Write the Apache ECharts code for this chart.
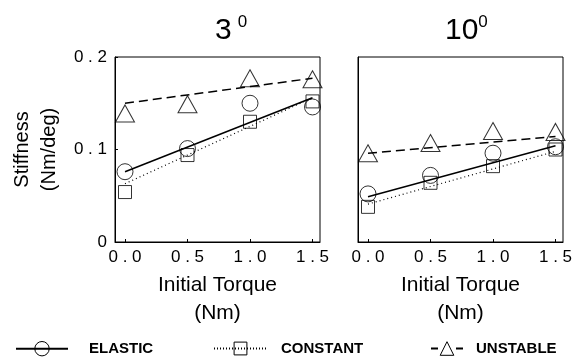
<!DOCTYPE html>
<html>
<head>
<meta charset="utf-8">
<script src="https://cdn.jsdelivr.net/npm/echarts@6/dist/echarts.min.js"></script>
<style>html,body{margin:0;padding:0;background:#fff}#c{width:578px;height:364px}</style>
</head>
<body>
<div id="c"></div>
<script>
// ---- data ----
var torque = [0.0, 0.5, 1.0, 1.5];
var xTicks = [0.0, 0.5, 1.0, 1.5];
var panelTitles = ['3', '10'];
var seriesNames = ['ELASTIC', 'CONSTANT', 'UNSTABLE'];

// 3 degree panel
var elastic3 = [0.076, 0.101, 0.150, 0.146];
var constant3 = [0.054, 0.094, 0.130, 0.152];
var unstable3 = [0.139, 0.149, 0.177, 0.176];
var fitX = [0.0, 1.5];
var fitElastic3 = [0.076, 0.156];
var fitConstant3 = [0.063, 0.156];
var fitUnstable3 = [0.150, 0.177];

// 10 degree panel
var elastic10 = [0.052, 0.072, 0.096, 0.103];
var constant10 = [0.038, 0.064, 0.082, 0.100];
var unstable10 = [0.096, 0.107, 0.120, 0.119];
var fitElastic10 = [0.049, 0.104];
var fitConstant10 = [0.041, 0.098];
var fitUnstable10 = [0.096, 0.114];

function pairs(xs, ys) { return xs.map(function (x, i) { return [x, ys[i]]; }); }
function spacedY(v) { return v === 0 ? '0' : v.toFixed(1).split('').join(' '); }
function spacedX(v) { return v.toFixed(1).split('').join(' '); }

var FONT = 'Liberation Sans, Arial, sans-serif';
var styles = {
  ELASTIC: { symbol: 'circle', size: 16, line: { type: 'solid', width: 1.5 } },
  CONSTANT: { symbol: 'rect', size: 13, line: { type: [1, 3], width: 1.2 } },
  UNSTABLE: { symbol: 'triangle', size: [19, 17], line: { type: [9, 5], width: 1.5 } }
};

var chart = echarts.init(document.getElementById('c'), null, { renderer: 'canvas' });

var grids = [
  { left: 115, top: 57, width: 205, height: 185 },
  { left: 358, top: 57, width: 205, height: 185 }
];

var markerItem = { color: 'rgba(0,0,0,0)', borderColor: '#000', borderWidth: 1 };

function xAxis(gi) {
  return {
    type: 'value', gridIndex: gi, min: -0.08, max: 1.56,
    axisLine: { show: true, onZero: false, lineStyle: { color: '#000', width: 1 } },
    axisTick: { show: true, inside: true, length: 3, customValues: xTicks, lineStyle: { color: '#000' } },
    axisLabel: { show: true, customValues: xTicks, color: '#000', fontFamily: FONT, fontSize: 17, margin: 7, formatter: spacedX },
    splitLine: { show: false },
    name: 'Initial Torque\n(Nm)', nameLocation: 'middle', nameGap: 29,
    nameTextStyle: { color: '#000', fontFamily: FONT, fontSize: 21, lineHeight: 28 }
  };
}
function yAxis(gi) {
  var a = {
    type: 'value', gridIndex: gi, min: 0, max: 0.2, interval: 0.1,
    axisLine: { show: true, onZero: false, lineStyle: { color: '#000', width: 1 } },
    axisTick: { show: gi === 0, inside: true, length: 3, lineStyle: { color: '#000' } },
    axisLabel: { show: gi === 0, color: '#000', fontFamily: FONT, fontSize: 17, margin: 8, formatter: spacedY },
    splitLine: { show: false }
  };
  if (gi === 0) {
    a.name = 'Stiffness\n(Nm/deg)';
    a.nameLocation = 'middle';
    a.nameGap = 52;
    a.nameTextStyle = { color: '#000', fontFamily: FONT, fontSize: 20, lineHeight: 27 };
  }
  return a;
}

var panelData = [
  { pts: [elastic3, constant3, unstable3], fits: [fitElastic3, fitConstant3, fitUnstable3] },
  { pts: [elastic10, constant10, unstable10], fits: [fitElastic10, fitConstant10, fitUnstable10] }
];

var series = [];
panelData.forEach(function (p, gi) {
  seriesNames.forEach(function (nm, k) {
    var st = styles[nm];
    series.push({
      name: gi === 0 ? nm : nm + ' ',
      type: 'line', xAxisIndex: gi, yAxisIndex: gi,
      data: pairs(fitX, p.fits[k]),
      symbol: st.symbol, showSymbol: false, silent: true,
      lineStyle: { color: '#000', width: st.line.width, type: st.line.type },
      itemStyle: markerItem,
      animation: false, z: 2
    });
    series.push({
      name: nm + ' pts' + gi,
      type: 'scatter', xAxisIndex: gi, yAxisIndex: gi,
      data: pairs(torque, p.pts[k]),
      symbol: st.symbol, symbolSize: st.size,
      itemStyle: markerItem,
      animation: false, z: 3
    });
  });
});

function legend(name, left, itemWidth, itemHeight, pad, lineType) {
  var l = {
    data: [name], left: left, top: 341, padding: 0,
    itemWidth: itemWidth, itemHeight: itemHeight, selectedMode: false,
    textStyle: { color: '#000', fontFamily: FONT, fontSize: 15, fontWeight: 'bold', padding: [0, 0, 0, pad] },
    itemStyle: { color: 'rgba(0,0,0,0)', borderColor: '#000', borderWidth: 1 }
  };
  if (lineType) l.lineStyle = { type: lineType };
  return l;
}

var titleRich = {
  n: { fontFamily: FONT, fontSize: 30, fontWeight: 'normal', color: '#000', lineHeight: 34, verticalAlign: 'middle' },
  s: { fontFamily: FONT, fontSize: 17, fontWeight: 'normal', color: '#000', lineHeight: 16, verticalAlign: 'top' },
  s2: { fontFamily: FONT, fontSize: 17, fontWeight: 'normal', color: '#000', lineHeight: 16, verticalAlign: 'top', padding: [0, 0, 0, 6] }
};

chart.setOption({
  backgroundColor: '#fff',
  animation: false,
  title: [
    { text: '{n|' + panelTitles[0] + '}{s2|0}', left: 215, top: 14, padding: 0, textStyle: { fontWeight: 'normal', rich: titleRich } },
    { text: '{n|' + panelTitles[1] + '}{s|0}', left: 445, top: 14, padding: 0, textStyle: { fontWeight: 'normal', rich: titleRich } }
  ],
  grid: grids.map(function (g) {
    return Object.assign({ show: true, borderColor: '#000', borderWidth: 1, backgroundColor: 'transparent' }, g);
  }),
  xAxis: [xAxis(0), xAxis(1)],
  yAxis: [yAxis(0), yAxis(1)],
  legend: [
    legend('ELASTIC', 15, 52, 18, 16, null),
    legend('CONSTANT', 213, 53, 16, 9, [1, 2]),
    legend('UNSTABLE', 430, 32, 17, 8, [7, 18])
  ],
  series: series
});
</script>
</body>
</html>
